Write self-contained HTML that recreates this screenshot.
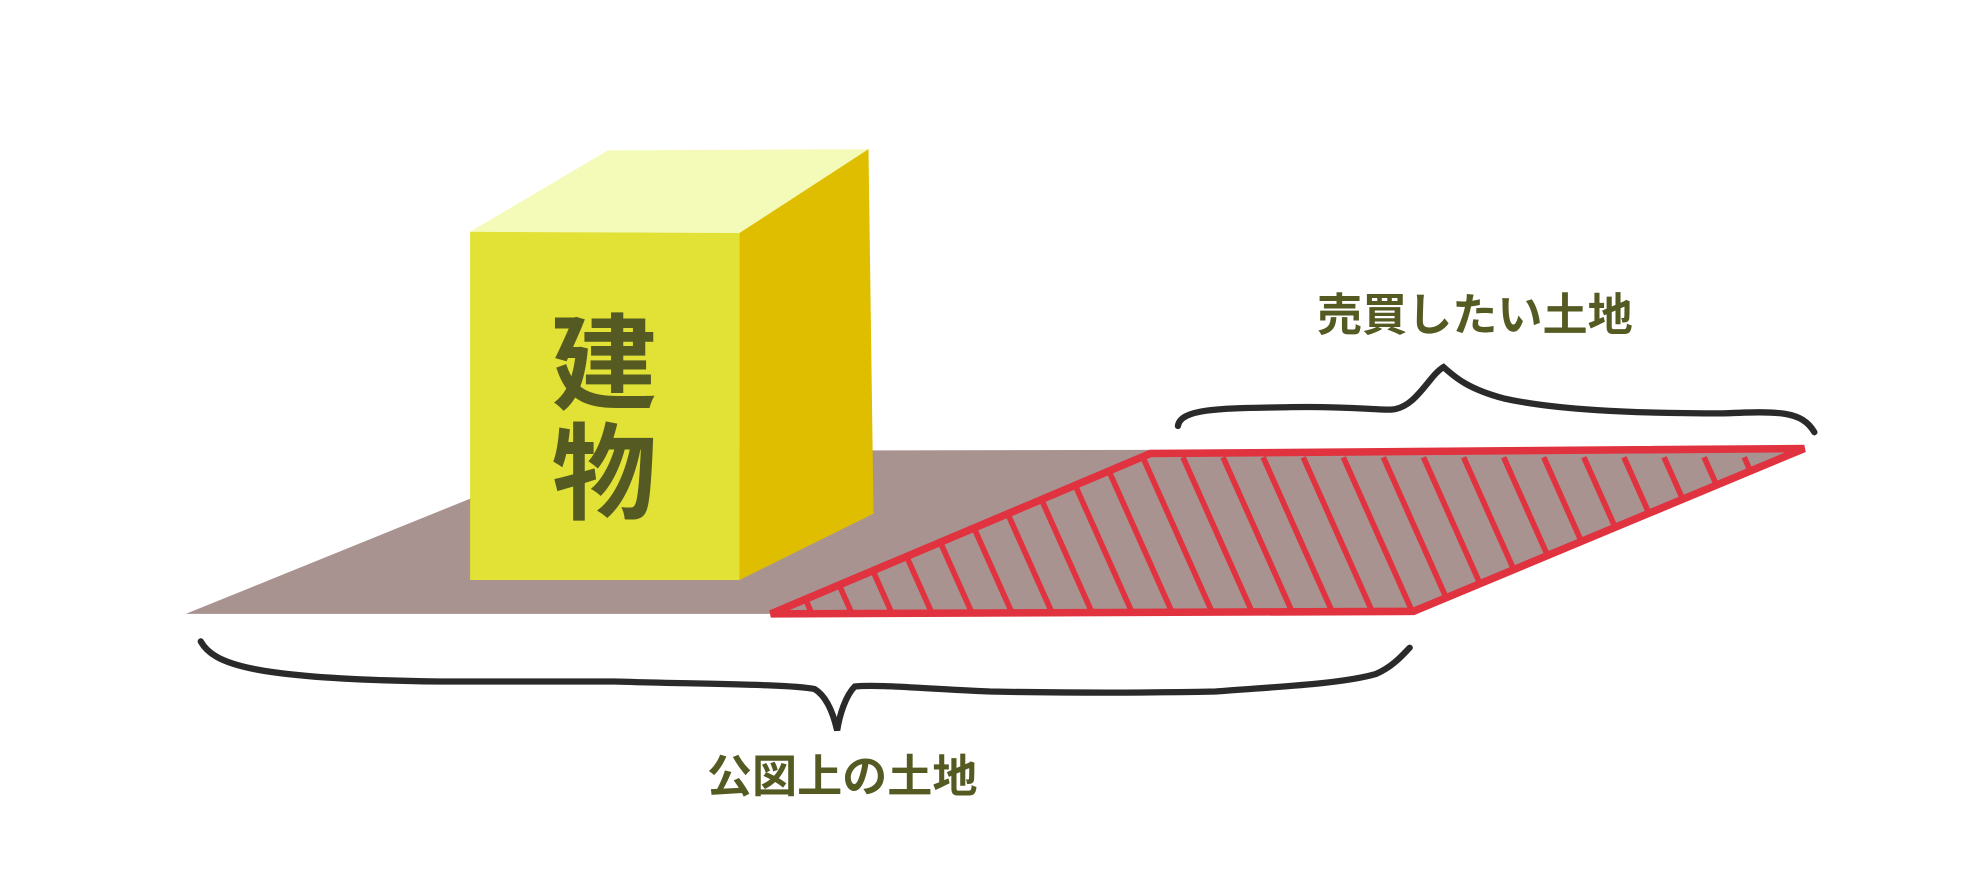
<!DOCTYPE html>
<html><head><meta charset="utf-8"><style>html,body{margin:0;padding:0;background:#fff}svg{display:block}</style></head><body>
<svg width="1965" height="892" viewBox="0 0 1568 712" xmlns="http://www.w3.org/2000/svg">
<defs><clipPath id="c"><polygon points="615,490 1128,488 1440,358 918,362"/></clipPath></defs>
<polygon points="148,490 1128,490 1440,358 469,360" fill="#a99391"/>
<g clip-path="url(#c)" stroke="#e0323f" stroke-width="4.5">
<line x1="560" y1="365" x2="615" y2="488"/><line x1="592" y1="365" x2="647" y2="488"/><line x1="624" y1="365" x2="679" y2="488"/><line x1="656" y1="365" x2="711" y2="488"/><line x1="688" y1="365" x2="743" y2="488"/><line x1="720" y1="365" x2="775" y2="488"/><line x1="752" y1="365" x2="807" y2="488"/><line x1="784" y1="365" x2="839" y2="488"/><line x1="816" y1="365" x2="871" y2="488"/><line x1="848" y1="365" x2="903" y2="488"/><line x1="880" y1="365" x2="935" y2="488"/><line x1="912" y1="365" x2="967" y2="488"/><line x1="944" y1="365" x2="999" y2="488"/><line x1="976" y1="365" x2="1031" y2="488"/><line x1="1008" y1="365" x2="1063" y2="488"/><line x1="1040" y1="365" x2="1095" y2="488"/><line x1="1072" y1="365" x2="1127" y2="488"/><line x1="1104" y1="365" x2="1159" y2="488"/><line x1="1136" y1="365" x2="1191" y2="488"/><line x1="1168" y1="365" x2="1223" y2="488"/><line x1="1200" y1="365" x2="1255" y2="488"/><line x1="1232" y1="365" x2="1287" y2="488"/><line x1="1264" y1="365" x2="1319" y2="488"/><line x1="1296" y1="365" x2="1351" y2="488"/><line x1="1328" y1="365" x2="1383" y2="488"/><line x1="1360" y1="365" x2="1415" y2="488"/><line x1="1392" y1="365" x2="1447" y2="488"/>
</g>
<polygon points="615,490 1128,488 1440,358 918,362" fill="none" stroke="#e0323f" stroke-width="6" stroke-linejoin="miter"/>
<polygon points="375,185 485,120 693,119 590,186" fill="#f4fbb9"/>
<polygon points="590,186 693,119 697,410 590,463" fill="#dfbe00"/>
<polygon points="375,185 590,186 590,463 375,463" fill="#e2e136"/>
<text x="482" y="320" font-family="'Liberation Sans','Noto Sans CJK JP',sans-serif" font-weight="bold" font-size="84" fill="#555a22" text-anchor="middle">建</text>
<text x="482" y="408" font-family="'Liberation Sans','Noto Sans CJK JP',sans-serif" font-weight="bold" font-size="84" fill="#555a22" text-anchor="middle">物</text>
<path d="M940,340 C942,325 980,326 1030,325 C1070,324 1095,327 1110,327 C1130,326 1140,300 1152,293 C1160,300 1170,310 1200,318 C1240,327 1300,330 1375,330 C1420,328 1438,328 1448,345" fill="none" stroke="#2a2a2a" stroke-width="5" stroke-linecap="round"/>
<path d="M160,512 C170,530 200,542 350,544 L490,544 C560,546 630,546 650,550 C660,556 665,570 668,583 C670,570 675,555 682,548 C700,546 740,550 790,552 C850,553 920,553 970,552 C1020,548 1070,546 1098,538 C1112,532 1120,522 1125,517" fill="none" stroke="#2a2a2a" stroke-width="5" stroke-linecap="round"/>
<text x="1177" y="264" font-family="'Liberation Sans','Noto Sans CJK JP',sans-serif" font-weight="bold" font-size="36" fill="#555a22" text-anchor="middle">売買したい土地</text>
<text x="672" y="632" font-family="'Liberation Sans','Noto Sans CJK JP',sans-serif" font-weight="bold" font-size="36" fill="#555a22" text-anchor="middle">公図上の土地</text>
</svg>
</body></html>
